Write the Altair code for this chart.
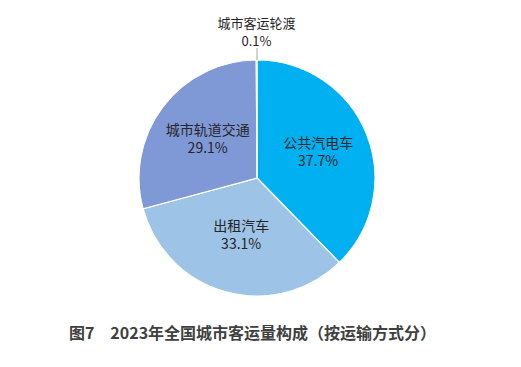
import altair as alt
import pandas as pd

categories = ["公共汽电车", "出租汽车", "城市轨道交通", "城市客运轮渡"]
values = [37.7, 33.1, 29.1, 0.1]
colors = ["#00B0F0", "#9DC3E6", "#7F98D6", "#A9A9A9"]
title_text = "图7\u30002023年全国城市客运量构成（按运输方式分）"

df = pd.DataFrame({
    "cat": categories,
    "val": values,
    "order": list(range(len(categories))),
})
df["label"] = [f"{c}\n{v:.1f}%" for c, v in zip(categories, values)]

CX, CY, R = 249, 170, 118
FONT = "Noto Sans CJK SC"
LH = 18

pie = alt.Chart(df).mark_arc(outerRadius=R, stroke="white", strokeWidth=1.2).encode(
    theta=alt.Theta("val:Q", stack=True),
    order=alt.Order("order:Q"),
    x=alt.value(CX), y=alt.value(CY),
    color=alt.Color("cat:N", scale=alt.Scale(domain=categories, range=colors), legend=None),
)

labels = alt.Chart(df).transform_window(
    cum="sum(val)", sort=[alt.SortField("order")], frame=[None, 0]
).transform_joinaggregate(
    total="sum(val)"
).transform_calculate(
    ang="(datum.cum - datum.val / 2) / datum.total * 2 * PI",
    r="datum.order == 0 ? 66 : (datum.order == 1 ? 60 : (datum.order == 2 ? 62 : 145))",
    fs="datum.val < 1 ? 13 : 14",
).mark_text(lineBreak="\n", font=FONT, color="#262626",
            align="center", baseline="middle", lineHeight=LH, dy=-LH / 2).encode(
    x=alt.value(CX), y=alt.value(CY),
    theta=alt.Theta("ang:Q", scale=None, stack=None),
    radius=alt.Radius("r:Q", scale=None),
    size=alt.Size("fs:Q", scale=None),
    text="label:N",
)

leader = alt.Chart(pd.DataFrame({"a": [0]})).mark_rule(color="#A6A6A6", strokeWidth=1).encode(
    x=alt.value(CX), y=alt.value(CY - 130), y2=alt.value(CY - R)
)

title = alt.Chart(pd.DataFrame({"t": [title_text]})).mark_text(
    font=FONT, fontSize=16, fontWeight="bold", color="#404040", align="center", baseline="middle"
).encode(x=alt.value(244.5), y=alt.value(326), text="t:N")

chart = alt.layer(pie, labels, leader, title).properties(
    width=505, height=351, autosize=alt.AutoSizeParams(type="none"), padding=0
).configure_view(stroke=None)

chart.save("out.html", embed_options={"renderer": "svg", "actions": False})
